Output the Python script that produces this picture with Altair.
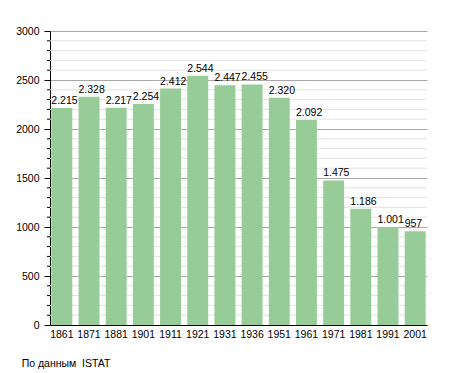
import altair as alt
import pandas as pd

years = ["1861", "1871", "1881", "1901", "1911", "1921", "1931", "1936",
         "1951", "1961", "1971", "1981", "1991", "2001"]
population = [2215, 2328, 2217, 2254, 2412, 2544, 2447, 2455,
              2320, 2092, 1475, 1186, 1001, 957]
labels = ["2.215", "2.328", "2.217", "2.254", "2.412", "2.544", "2.447", "2.455",
          "2.320", "2.092", "1.475", "1.186", "1.001", "957"]
major_ticks = [0, 500, 1000, 1500, 2000, 2500, 3000]
minor_ticks = [v for v in range(100, 3000, 100) if v % 500 != 0]

df = pd.DataFrame({"year": years, "pop": population, "label": labels})
minor_df = pd.DataFrame({"v": minor_ticks})

FONT = "Liberation Sans"
FS = 10.5
yscale = alt.Scale(domain=[0, 3000], nice=False)
yaxis = alt.Axis(values=major_ticks, format="d", grid=True,
                 gridColor="#a8a8a8", tickSize=6, tickColor="black",
                 domainColor="black", labelColor="black",
                 labelFont=FONT, labelFontSize=FS, labelPadding=5, title=None)

minor_grid = alt.Chart(minor_df).mark_rule(color="#e2e2e2", strokeWidth=1).encode(
    y=alt.Y("v:Q", scale=yscale, axis=yaxis, title=None),
    x=alt.value(0), x2=alt.value(377),
)
minor_tick = alt.Chart(minor_df).mark_rule(color="black", strokeWidth=1).encode(
    y=alt.Y("v:Q", scale=yscale, axis=yaxis, title=None),
    x=alt.value(-3), x2=alt.value(0),
)

bars = alt.Chart(df).mark_bar(color="#97cb97").encode(
    x=alt.X("year:N", sort=years, title=None,
            scale=alt.Scale(paddingInner=0.23, paddingOuter=0.05),
            axis=alt.Axis(labelAngle=0, ticks=False, domainColor="black",
                          labelColor="black", labelFont=FONT, labelFontSize=FS,
                          labelPadding=4)),
    y=alt.Y("pop:Q", scale=yscale, axis=yaxis, title=None),
)

text = alt.Chart(df).mark_text(align="left", baseline="bottom", dx=-10.5, dy=-2,
                               font=FONT, fontSize=FS, color="black").encode(
    x=alt.X("year:N", sort=years),
    y=alt.Y("pop:Q", scale=yscale, axis=yaxis, title=None),
    text="label:N",
)

chart = alt.layer(minor_grid, bars, minor_tick, text).properties(
    width=377, height=294,
    autosize=alt.AutoSizeParams(type="none"),
    padding={"left": 42, "top": 23, "right": 20, "bottom": 48},
    title=alt.TitleParams("По данным\u00a0 ISTAT", orient="bottom", anchor="start",
                          dx=6, offset=19, font=FONT, fontSize=FS,
                          fontWeight="normal", color="black"),
).configure_view(stroke=None).configure_axis(gridWidth=1)

chart.save("out.html", embed_options={"renderer": "svg", "actions": False})
